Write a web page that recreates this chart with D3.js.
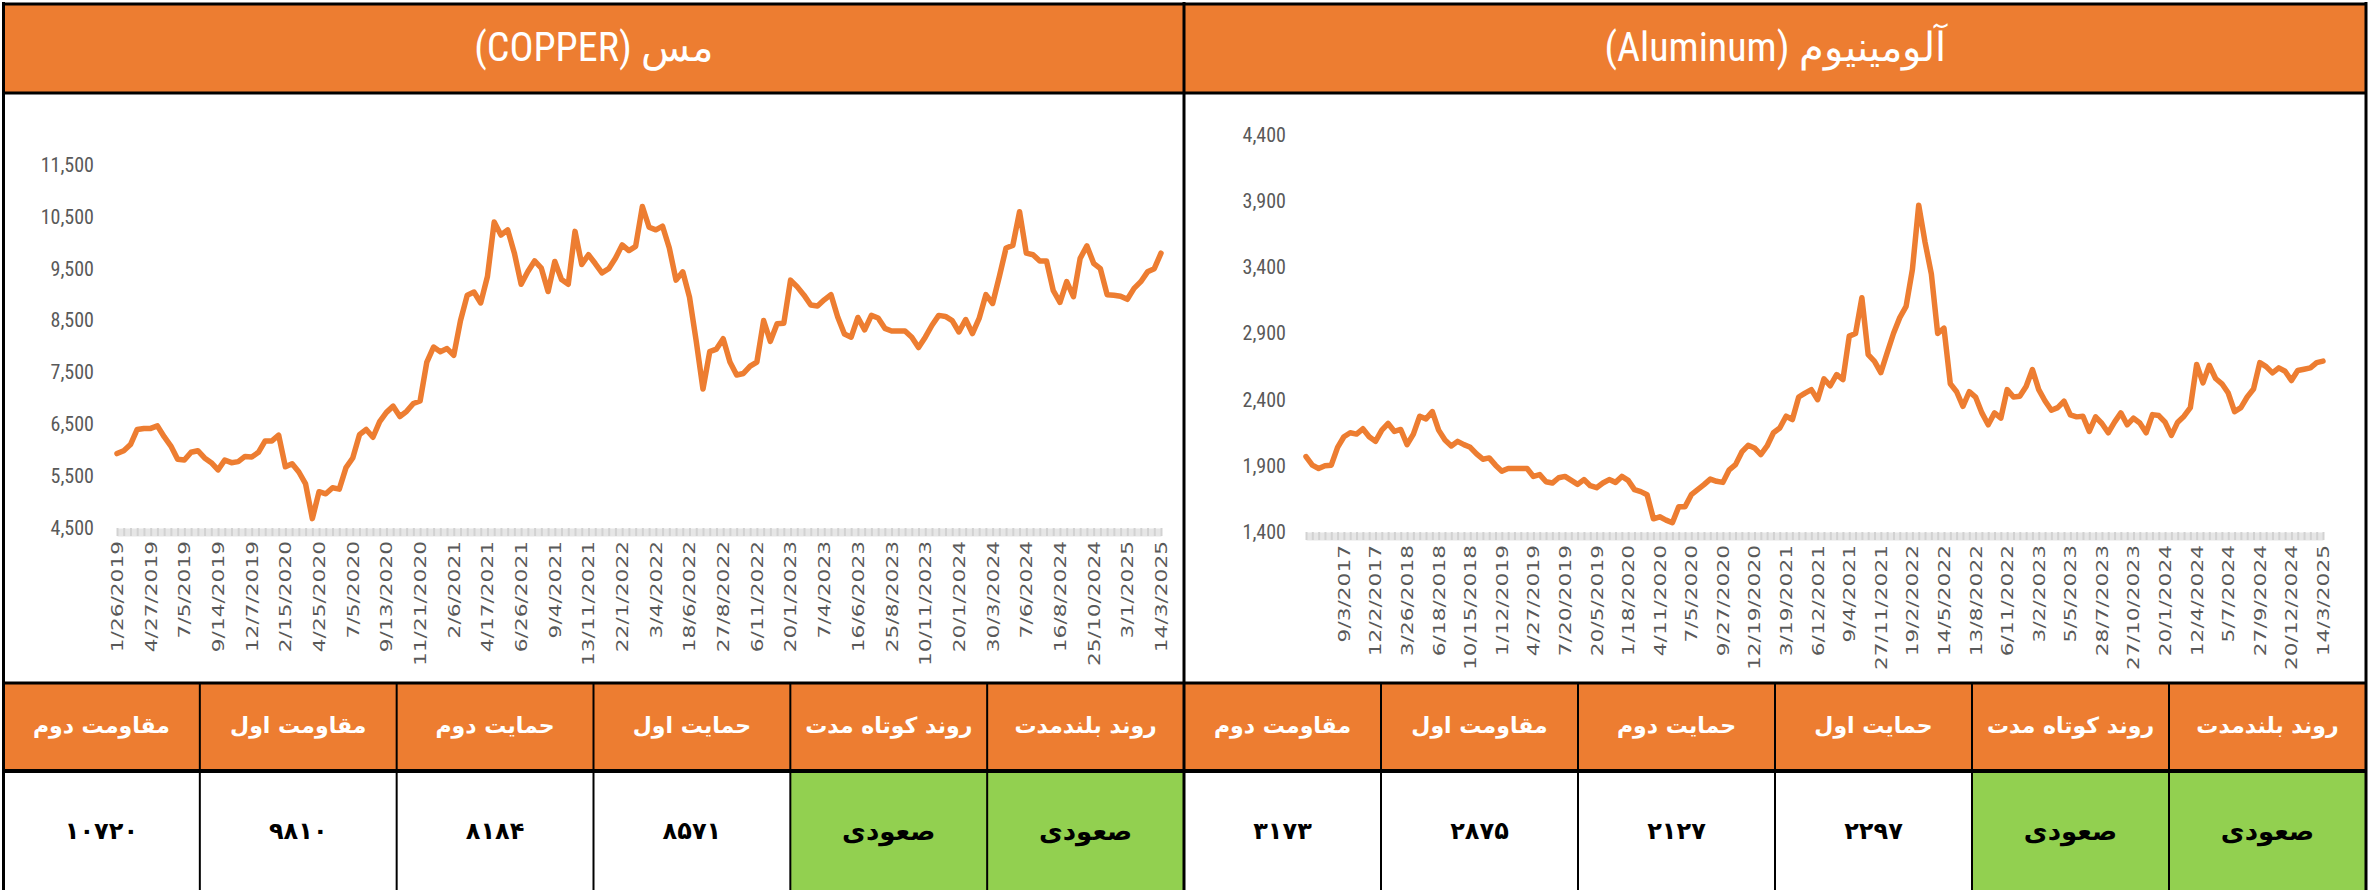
<!DOCTYPE html>
<html>
<head>
<meta charset="utf-8">
<script src="https://cdn.jsdelivr.net/npm/d3@7"></script>
<style>
  body { margin: 0; background: #fff; }
  svg { display: block; }
</style>
</head>
<body>
<svg id="chart" width="2379" height="890"></svg>
<script>
// weekly closes
const copperValues = [
  5935, 5990, 6110, 6400, 6420, 6420, 6470, 6260, 6080, 5825,
  5810, 5960, 5990, 5850, 5760, 5620, 5810, 5760, 5780, 5880,
  5870, 5960, 6180, 6180, 6290, 5680, 5740, 5580, 5350, 4680,
  5200, 5160, 5275, 5250, 5665, 5850, 6300, 6400, 6250, 6550,
  6730, 6850, 6650, 6750, 6900, 6950, 7700, 7990, 7900, 7960,
  7830, 8500, 8990, 9050, 8840, 9350, 10400, 10150, 10250, 9800,
  9200, 9445, 9650, 9510, 9060, 9640, 9290, 9200, 10220, 9580,
  9770, 9600, 9420, 9500, 9700, 9960, 9850, 9930, 10700, 10300,
  10250, 10320, 9900, 9280, 9440, 8950, 8100, 7180, 7900, 7950,
  8150, 7700, 7450, 7480, 7620, 7700, 8500, 8100, 8440, 8450,
  9280, 9150, 8990, 8800, 8780, 8900, 9000, 8570, 8240, 8180,
  8560, 8320, 8600, 8550, 8350, 8300, 8300, 8300, 8180, 7980,
  8180, 8410, 8600, 8580, 8500, 8280, 8520, 8250, 8540, 9000,
  8830, 9350, 9900, 9950, 10600, 9800, 9770, 9650, 9650, 9080,
  8850, 9250, 8960, 9700, 9940, 9605, 9500, 9000, 8990, 8970,
  8910, 9120, 9250, 9440, 9500, 9800
];
const copperLabels = ["1/26/2019", "4/27/2019", "7/5/2019", "9/14/2019", "12/7/2019", "2/15/2020",
  "4/25/2020", "7/5/2020", "9/13/2020", "11/21/2020", "2/6/2021", "4/17/2021", "6/26/2021",
  "9/4/2021", "13/11/2021", "22/1/2022", "3/4/2022", "18/6/2022", "27/8/2022", "6/11/2022",
  "20/1/2023", "7/4/2023", "16/6/2023", "25/8/2023", "10/11/2023", "20/1/2024", "30/3/2024",
  "7/6/2024", "16/8/2024", "25/10/2024", "3/1/2025", "14/3/2025"];
const copperTicks = [4500, 5500, 6500, 7500, 8500, 9500, 10500, 11500];

const aluminumValues = [
  1970, 1905, 1880, 1900, 1905, 2040, 2120, 2150, 2140, 2180,
  2120, 2085, 2170, 2220, 2160, 2175, 2060, 2140, 2275, 2255,
  2310, 2170, 2095, 2050, 2085, 2060, 2040, 1990, 1950, 1960,
  1905, 1860, 1880, 1880, 1880, 1880, 1820, 1834, 1780, 1770,
  1810, 1820, 1790, 1760, 1796, 1750, 1735, 1770, 1796, 1775,
  1820, 1790, 1720, 1705, 1682, 1500, 1515, 1490, 1470, 1590,
  1590, 1682, 1720, 1758, 1800, 1783, 1775, 1870, 1909, 2005,
  2055, 2035, 1985, 2050, 2150, 2186, 2275, 2250, 2420, 2450,
  2476, 2400, 2557, 2505, 2590, 2552, 2880, 2900, 3170, 2740,
  2690, 2605, 2754, 2900, 3020, 3105, 3384, 3870, 3590, 3350,
  2900, 2940, 2520, 2460, 2350, 2460, 2420, 2300, 2210, 2300,
  2260, 2476, 2420, 2426, 2500, 2628, 2476, 2390, 2320, 2340,
  2388, 2285, 2270, 2275, 2160, 2270, 2220, 2150, 2230, 2300,
  2210, 2260, 2224, 2150, 2287, 2280, 2230, 2130, 2230, 2275,
  2340, 2666, 2527, 2660, 2560, 2520, 2450, 2310, 2340, 2420,
  2480, 2680, 2650, 2602, 2640, 2615, 2545, 2620, 2630, 2640,
  2680, 2691
];
const aluminumLabels = ["9/3/2017", "12/2/2017", "3/26/2018", "6/18/2018", "10/15/2018", "1/12/2019",
  "4/27/2019", "7/20/2019", "20/5/2019", "1/18/2020", "4/11/2020", "7/5/2020", "9/27/2020",
  "12/19/2020", "3/19/2021", "6/12/2021", "9/4/2021", "27/11/2021", "19/2/2022", "14/5/2022",
  "13/8/2022", "6/11/2022", "3/2/2023", "5/5/2023", "28/7/2023", "27/10/2023", "20/1/2024",
  "12/4/2024", "5/7/2024", "27/9/2024", "20/12/2024", "14/3/2025"];
const aluminumTicks = [1400, 1900, 2400, 2900, 3400, 3900, 4400];

// table (left to right as shown)
const tableHeaders = ["مقاومت دوم", "مقاومت اول", "حمایت دوم", "حمایت اول", "روند کوتاه مدت", "روند بلندمدت"];
const copperLevels = [10720, 9810, 8184, 8571];
const copperTrends = ["صعودی", "صعودی"];
const aluminumLevels = [3173, 2875, 2127, 2297];
const aluminumTrends = ["صعودی", "صعودی"];

const orange = '#ED7D31';
const green = '#92D050';
const grey = '#595959';
const narrow = "'Liberation Sans Narrow', 'Roboto Condensed', 'Arial Narrow', 'Liberation Sans', sans-serif";
const persian = "'DejaVu Sans', sans-serif";

const faDigits = n => String(n).replace(/\d/g, d => '۰۱۲۳۴۵۶۷۸۹'[d]);

const svg = d3.select('#chart');
svg.append('rect').attr('width', 2379).attr('height', 890).attr('fill', '#fff');

const frameL = 3, frameR = 2366, mid = 1184;
const titleBot = 93, tableTop = 683, headBot = 771, bottom = 890;

const panels = [
  {title: 'مس (COPPER)', x0: frameL, x1: mid, values: copperValues, labels: copperLabels,
   ticks: copperTicks, labelStart: 0, labelStep: 5,
   plotL: 117, plotR: 1161, plotT: 165, plotB: 528, yLabelX: 94,
   cells: copperLevels.map(faDigits).concat(copperTrends)},
  {title: 'آلومینیوم (Aluminum)', x0: mid, x1: frameR, values: aluminumValues, labels: aluminumLabels,
   ticks: aluminumTicks, labelStart: 6, labelStep: 5,
   plotL: 1306, plotR: 2323, plotT: 135, plotB: 532, yLabelX: 1286,
   cells: aluminumLevels.map(faDigits).concat(aluminumTrends)}
];

panels.forEach(p => {
  // title bar
  svg.append('rect').attr('x', p.x0).attr('y', 4).attr('width', p.x1 - p.x0).attr('height', titleBot - 4).attr('fill', orange);
  svg.append('text')
    .attr('x', (p.x0 + p.x1) / 2).attr('y', 47)
    .attr('direction', 'rtl')
    .attr('text-anchor', 'middle').attr('dominant-baseline', 'central')
    .attr('font-family', narrow).attr('font-size', 40).attr('fill', '#fff')
    .text(p.title);

  const x = d3.scaleLinear().domain([0, p.values.length - 1]).range([p.plotL, p.plotR]);
  const y = d3.scaleLinear().domain([p.ticks[0], p.ticks[p.ticks.length - 1]]).range([p.plotB, p.plotT]);

  // y labels
  svg.append('g').attr('transform', `translate(${p.yLabelX},0)`)
    .call(d3.axisLeft(y).tickValues(p.ticks).tickSize(0).tickPadding(0).tickFormat(d3.format(',')))
    .call(g => g.select('.domain').remove())
    .selectAll('text')
      .attr('font-family', narrow).attr('font-size', 20).attr('fill', grey);

  // category axis: one tick per week over a light band
  svg.append('g').attr('transform', `translate(0,${p.plotB})`)
    .call(d3.axisBottom(x).tickValues(d3.range(p.values.length)).tickSize(8).tickSizeOuter(0).tickFormat(''))
    .call(g => g.select('.domain').attr('transform', 'translate(0,4)').attr('stroke', '#e6e6e6').attr('stroke-width', 8))
    .call(g => g.selectAll('.tick line').attr('stroke', '#d2d2d2').attr('stroke-width', 2));

  // date labels
  const labelIdx = p.labels.map((_, j) => p.labelStart + j * p.labelStep);
  svg.append('g').attr('transform', `translate(0,${p.plotB})`)
    .call(d3.axisBottom(x).tickValues(labelIdx).tickSize(0).tickFormat((d, i) => p.labels[i]))
    .call(g => g.select('.domain').remove())
    .selectAll('text')
      .attr('x', 0).attr('y', 0).attr('dy', '0.35em')
      .attr('text-anchor', 'end')
      .attr('transform', 'translate(0,13) rotate(-90) scale(1.4,1)')
      .attr('font-family', "'DejaVu Sans', sans-serif").attr('font-size', 15.5).attr('fill', grey);

  // price line
  const line = d3.line().x((d, i) => x(i)).y(d => y(d));
  svg.append('path').datum(p.values)
    .attr('d', line)
    .attr('fill', 'none').attr('stroke', orange).attr('stroke-width', 5.5)
    .attr('stroke-linejoin', 'round').attr('stroke-linecap', 'round');

  // table
  const colW = (p.x1 - p.x0) / tableHeaders.length;
  tableHeaders.forEach((h, i) => {
    const cx = p.x0 + i * colW;
    svg.append('rect').attr('x', cx).attr('y', tableTop).attr('width', colW).attr('height', headBot - tableTop).attr('fill', orange);
    svg.append('text').attr('x', cx + colW / 2).attr('y', (tableTop + headBot) / 2 - 2)
      .attr('text-anchor', 'middle').attr('dominant-baseline', 'central')
      .attr('font-family', persian).attr('font-weight', 'bold').attr('font-size', 22).attr('fill', '#fff')
      .text(h);
    const isTrend = i >= 4;
    svg.append('rect').attr('x', cx).attr('y', headBot).attr('width', colW).attr('height', bottom - headBot)
      .attr('fill', isTrend ? green : '#fff');
    svg.append('text').attr('x', cx + colW / 2).attr('y', 831)
      .attr('text-anchor', 'middle').attr('dominant-baseline', 'central')
      .attr('font-family', persian).attr('font-weight', 'bold').attr('font-size', isTrend ? 26 : 24).attr('fill', '#000')
      .text(p.cells[i]);
    if (i > 0) {
      svg.append('line').attr('x1', cx).attr('x2', cx).attr('y1', tableTop).attr('y2', bottom)
        .attr('stroke', '#000').attr('stroke-width', 2);
    }
  });
});

// frame lines
const hLine = (yy, w) => svg.append('line').attr('x1', frameL - 1).attr('x2', frameR + 1).attr('y1', yy).attr('y2', yy).attr('stroke', '#000').attr('stroke-width', w);
const vLine = (xx, w) => svg.append('line').attr('x1', xx).attr('x2', xx).attr('y1', 2).attr('y2', bottom).attr('stroke', '#000').attr('stroke-width', w);
hLine(4, 3);
hLine(titleBot, 3);
hLine(tableTop, 3);
hLine(headBot, 4);
vLine(frameL + 0.5, 3);
vLine(mid, 3);
vLine(frameR, 3);
</script>
</body>
</html>
